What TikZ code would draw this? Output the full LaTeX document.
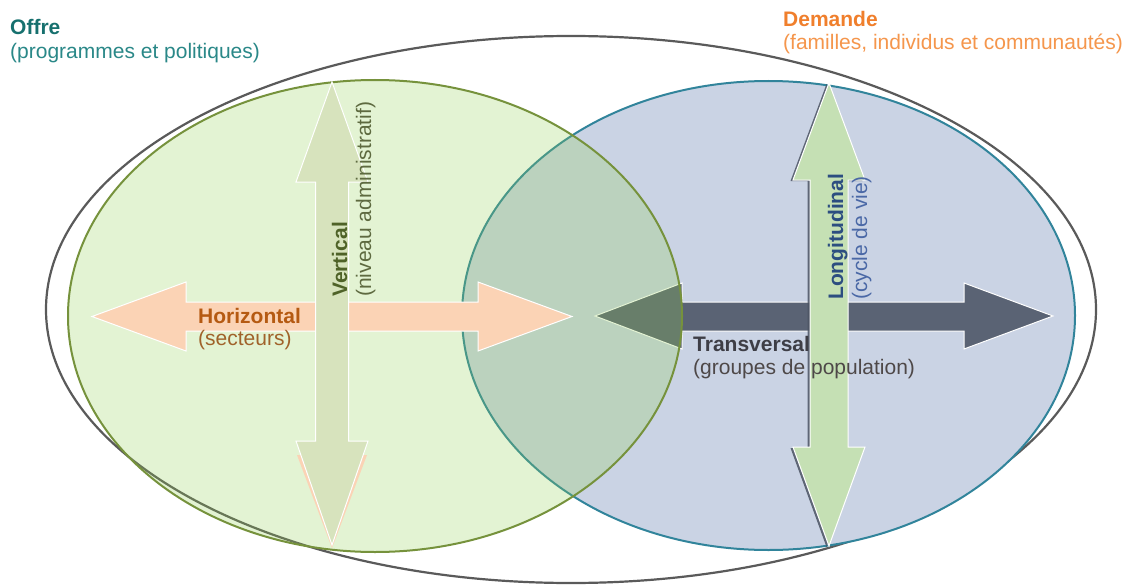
\documentclass[tikz,border=0pt]{standalone}
\usepackage{fontspec}
\setmainfont{Liberation Sans}
\definecolor{outerline}{HTML}{5A5A5A}
\definecolor{bluefill}{HTML}{CAD3E4}
\definecolor{blueline}{HTML}{31849B}
\definecolor{greenbase}{RGB}{146,208,80}
\definecolor{greenline}{HTML}{76923C}
\definecolor{peach}{HTML}{FBD3B5}
\definecolor{vertfill}{HTML}{D7E3BD}
\definecolor{longfill}{HTML}{C5E0B4}
\definecolor{transfill}{HTML}{5A6374}
\definecolor{offreB}{HTML}{16706E}
\definecolor{offreL}{HTML}{2A8888}
\definecolor{demB}{HTML}{F07F2C}
\definecolor{demL}{HTML}{F5964C}
\definecolor{horB}{HTML}{B55A12}
\definecolor{horL}{HTML}{A0622A}
\definecolor{verB}{HTML}{4F6228}
\definecolor{verL}{HTML}{5E6A40}
\definecolor{traB}{HTML}{3E3E46}
\definecolor{traL}{HTML}{4E4848}
\definecolor{lonB}{HTML}{2C4E80}
\definecolor{lonL}{HTML}{4A68A6}
\begin{document}
\begin{tikzpicture}[x=1pt,y=-1pt,
  arrowshape/.style={draw=white,line width=1pt,line join=miter},
  lbl/.style={inner sep=0pt,font=\fontsize{21}{24}\selectfont},
  bold/.style={lbl,font=\fontsize{21}{24}\selectfont\bfseries}]
\useasboundingbox (0,0) rectangle (1128,586);
\fill[white] (0,0) rectangle (1128,586);
\coordinate (outerC) at (571,309.5);
\coordinate (greenC) at (375,316);
\coordinate (blueC) at (768.5,315.5);
% outer ellipse
\draw[outerline,line width=2.2pt] (outerC) ellipse [x radius=525pt, y radius=273.5pt];
% blue ellipse (demand)
\filldraw[fill=bluefill,draw=blueline,line width=2pt] (blueC) ellipse [x radius=306.5pt, y radius=234.5pt];
% transversal arrow
\fill[transfill,arrowshape] (595,316) -- (682,283) -- (682,302) -- (964,302) -- (964,283) -- (1053,316) -- (964,349) -- (964,331) -- (682,331) -- (682,349) -- cycle;
% longitudinal arrow with thin shadow
\fill[transfill!85!black,opacity=0.85] (826.5,84) -- (862.5,181) -- (845.5,181) -- (845.5,448) -- (862.5,448) -- (826.5,547) -- (790.5,448) -- (807.5,448) -- (807.5,181) -- (790.5,181) -- cycle;
\fill[longfill,arrowshape] (829,83) -- (865,180) -- (848,180) -- (848,447) -- (865,447) -- (829,546) -- (793,447) -- (810,447) -- (810,180) -- (793,180) -- cycle;
% green ellipse (offer), translucent
\fill[greenbase,opacity=0.25] (greenC) ellipse [x radius=307pt, y radius=236pt];
\draw[greenline,line width=2pt] (greenC) ellipse [x radius=307pt, y radius=236pt];
% horizontal arrow
\fill[peach,arrowshape] (92,316.5) -- (186,282) -- (186,302) -- (478,302) -- (478,282) -- (572,316.5) -- (478,351) -- (478,331) -- (186,331) -- (186,351) -- cycle;
% vertical arrow
\fill[peach] (297,455) -- (367,455) -- (332,548) -- cycle;
\fill[vertfill,arrowshape] (332,82) -- (368,182) -- (348.5,182) -- (348.5,441) -- (368,441) -- (332,545) -- (296,441) -- (315.5,441) -- (315.5,182) -- (296,182) -- cycle;
% labels
\node[bold,text=offreB,anchor=base west] (offre) at (10,35) {Offre};
\node[lbl,text=offreL,anchor=base west] (offresub) at (10,59) {(programmes et politiques)};
\node[bold,text=demB,anchor=base west] (demande) at (783,26.5) {Demande};
\node[lbl,text=demL,anchor=base west] (demandesub) at (783,50) {(familles, individus et communautés)};
\node[bold,text=horB,anchor=base west] (hor) at (198,323) {Horizontal};
\node[lbl,text=horL,anchor=base west] (horsub) at (198,345.5) {(secteurs)};
\node[bold,text=traB,anchor=base west] (tra) at (693,351) {Transversal};
\node[lbl,text=traL,anchor=base west] (trasub) at (693,374) {(groupes de population)};
\node[bold,text=verB,anchor=base west,rotate=90] (ver) at (347,297) {Vertical};
\node[lbl,text=verL,anchor=base west,rotate=90] (versub) at (371,297) {(niveau administratif)};
\node[bold,text=lonB,anchor=base west,rotate=90] (lon) at (843,300) {Longitudinal};
\node[lbl,text=lonL,anchor=base west,rotate=90] (lonsub) at (867,300) {(cycle de vie)};
\end{tikzpicture}
\end{document}
